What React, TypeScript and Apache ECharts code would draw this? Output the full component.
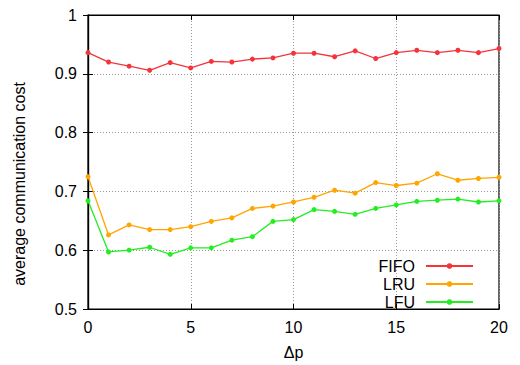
import React, { useEffect, useRef } from "react";
import * as echarts from "echarts";

const xValues = [0, 1, 2, 3, 4, 5, 6, 7, 8, 9, 10, 11, 12, 13, 14, 15, 16, 17, 18, 19, 20];
const fifo = [0.936, 0.920, 0.913, 0.906, 0.919, 0.910, 0.921, 0.920, 0.925, 0.927, 0.935, 0.935, 0.929, 0.939, 0.926, 0.936, 0.940, 0.936, 0.940, 0.936, 0.943];
const lru = [0.725, 0.626, 0.643, 0.635, 0.635, 0.640, 0.649, 0.655, 0.671, 0.675, 0.682, 0.690, 0.702, 0.697, 0.715, 0.710, 0.714, 0.730, 0.719, 0.722, 0.724];
const lfu = [0.684, 0.597, 0.600, 0.605, 0.593, 0.604, 0.604, 0.617, 0.623, 0.649, 0.652, 0.669, 0.666, 0.661, 0.671, 0.677, 0.683, 0.685, 0.687, 0.682, 0.684];
const seriesNames = ["FIFO", "LRU", "LFU"];
const seriesColors = ["#f4343a", "#ffa500", "#22ee22"];
const xTitle = "Δp";
const yTitle = "average communication cost";

const FONT = "'Liberation Sans', Arial, sans-serif";

export default function App() {
  const ref = useRef<HTMLDivElement>(null);
  useEffect(() => {
    if (!ref.current) return;
    const chart = echarts.init(ref.current, null, { renderer: "svg" });
    const datasets = [fifo, lru, lfu];
    const gridLine = { show: true, lineStyle: { color: "#999", type: [1, 2] as any, width: 1 } };
    const option: any = {
      animation: false,
      textStyle: { fontFamily: FONT },
      grid: { left: 88, right: 21, top: 15, bottom: 54, show: true, borderColor: "#000", borderWidth: 1.2, backgroundColor: "transparent" },
      graphic: [
        {
          type: "text",
          x: 19,
          y: 184,
          rotation: Math.PI / 2,
          style: {
            text: yTitle,
            fontSize: 16,
            fontFamily: FONT,
            fill: "#000",
            align: "center",
            verticalAlign: "middle",
          },
        },
      ],
      legend: {
        data: seriesNames,
        orient: "vertical",
        right: 41,
        top: 253,
        align: "right",
        itemWidth: 47,
        itemHeight: 7,
        itemGap: 2,
        textStyle: { fontSize: 16, color: "#000", fontFamily: FONT, padding: [0, 6, 0, 0] },
      },
      xAxis: [
        {
          type: "value",
          min: 0,
          max: 20,
          interval: 5,
          name: xTitle,
          nameLocation: "middle",
          nameGap: 35,
          nameTextStyle: { fontSize: 16, color: "#000", fontFamily: FONT },
          axisLine: { show: true, lineStyle: { color: "#000", width: 1.2 } },
          axisTick: { show: true, inside: true, length: 5, lineStyle: { color: "#000" } },
          axisLabel: { fontSize: 16, color: "#000", margin: 10, fontFamily: FONT },
          splitLine: gridLine,
        },
        {
          type: "value",
          position: "top",
          min: 0,
          max: 20,
          interval: 5,
          axisLine: { show: true, lineStyle: { color: "#000", width: 1.2 } },
          axisTick: { show: true, inside: true, length: 5, lineStyle: { color: "#000" } },
          axisLabel: { show: false },
          splitLine: { show: false },
        },
      ],
      yAxis: [
        {
          type: "value",
          min: 0.5,
          max: 1,
          interval: 0.1,
          axisLine: { show: true, lineStyle: { color: "#000", width: 1.2 } },
          axisTick: { show: true, inside: true, length: 5, lineStyle: { color: "#000" } },
          axisLabel: { fontSize: 16, color: "#000", margin: 11, fontFamily: FONT },
          splitLine: gridLine,
        },
        {
          type: "value",
          position: "right",
          min: 0.5,
          max: 1,
          interval: 0.1,
          axisLine: { show: true, lineStyle: { color: "#000", width: 1.2 } },
          axisTick: { show: true, inside: true, length: 5, lineStyle: { color: "#000" } },
          axisLabel: { show: false },
          splitLine: { show: false },
        },
      ],
      series: seriesNames.map((name, i) => ({
        name,
        type: "line",
        data: xValues.map((x, j) => [x, datasets[i][j]]),
        symbol: "circle",
        symbolSize: 5,
        showSymbol: true,
        lineStyle: { color: seriesColors[i], width: 1.3 },
        itemStyle: { color: seriesColors[i] },
        clip: false,
      })),
    };
    chart.setOption(option);
    return () => chart.dispose();
  }, []);
  return <div ref={ref} style={{ width: 520, height: 365, position: "absolute", left: 0, top: 0 }} />;
}
